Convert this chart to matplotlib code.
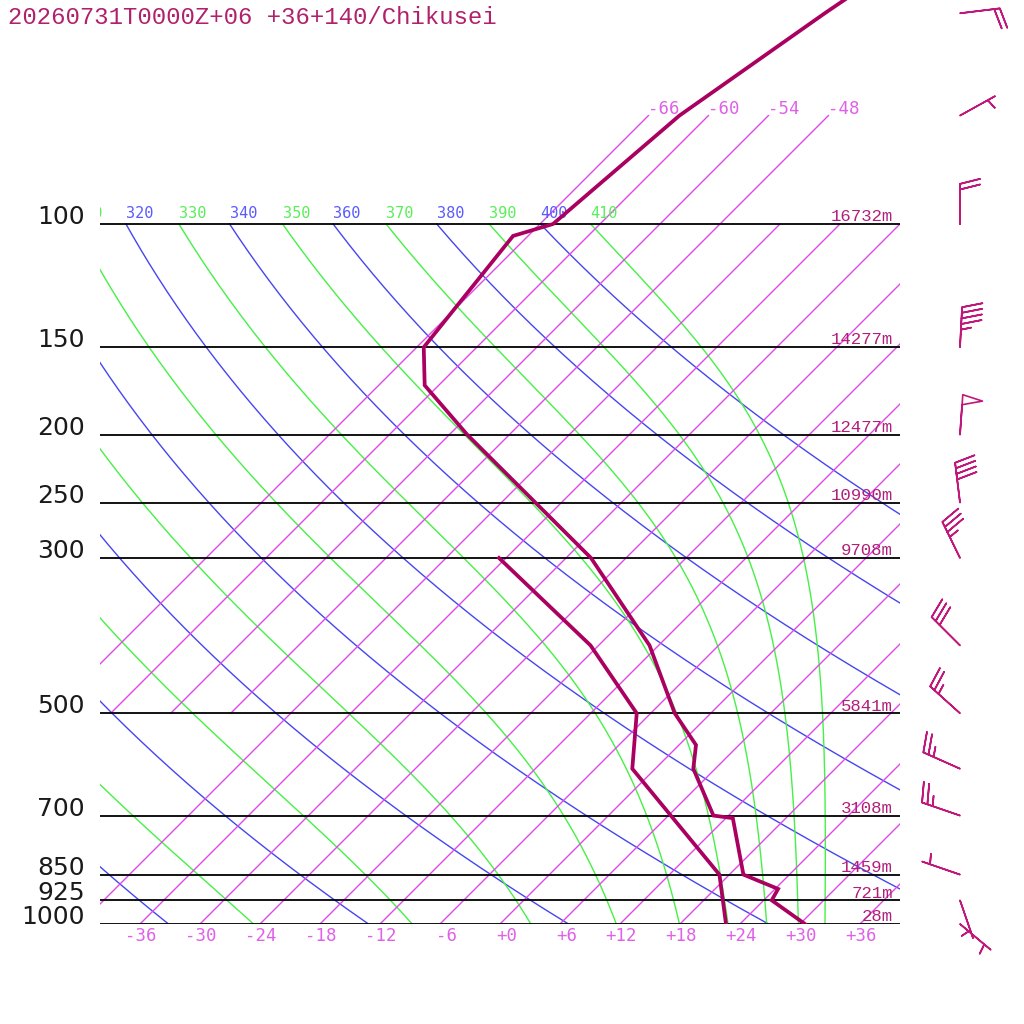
import numpy as np
import matplotlib
matplotlib.use("Agg")
import matplotlib.pyplot as plt
from matplotlib.transforms import offset_copy

# sounding, Chikusei 2026-07-31 00Z +06
temp_p = [1000, 925, 891, 850, 706, 700, 600, 555, 500, 400, 300, 200, 170, 150, 104, 100, 70, 50, 40]
temp_t = [30.5, 24.8, 24.3, 19.4, 12.7, 10.5, 3.8, 1.7, -3.6, -12.9, -27.5, -52.2, -61.4, -65.3, -67.5, -64.7, -62.9, -58.6, -55.4]
dewp_p = [1000, 850, 600, 500, 400, 300]
dewp_t = [22.6, 17.0, -2.3, -7.4, -18.8, -36.7]

isobars = [1000, 925, 850, 700, 500, 300, 250, 200, 150, 100]
heights = ["28m", "721m", "1459m", "3108m", "5841m", "9708m", "10990m", "12477m", "14277m", "16732m"]

wind_p = [1000, 925, 850, 700, 600, 500, 400, 300, 250, 200, 150, 100, 70, 50]
wind_dir = [130, 161, 289, 289, 294, 312, 315, 334, 353, 4, 3, 0, 61, 83]
wind_spd = [5, 5, 5, 25, 25, 25, 30, 35, 40, 50, 45, 20, 5, 20]

iso_t = list(range(-66, 37, 6))
theta_dry = list(range(200, 401, 20))
theta_moist = list(range(230, 411, 20))

SKEW = 70.0  # degC of shift per decade of pressure
P_TOP = 1000.0 / 10 ** (924 / 700)

C_PROF = "#aa0060"
C_BARB = "#c0187a"
C_ISO = "#e048e8"
C_DRY = "#4646f0"
C_MOIST = "#46f046"


def skew_x(t, p):
    return np.asarray(t, float) + SKEW * np.log10(1000.0 / np.asarray(p, float))


def theta_e(tk, p):
    tc = tk - 273.15
    e = 6.112 * np.exp(17.67 * tc / (tc + 243.5))
    r = 0.622 * e / (p - e) * 1000.0
    thl = tk * (1000.0 / (p - e)) ** 0.2854
    return thl * np.exp((3.376 / tk - 0.00254) * r * (1 + 0.81e-3 * r))


def moist_t(the, p):
    lo = np.full_like(p, 150.0)
    hi = np.full_like(p, 315.0)
    for _ in range(60):
        mid = 0.5 * (lo + hi)
        up = theta_e(mid, p) > the
        hi = np.where(up, mid, hi)
        lo = np.where(up, lo, mid)
    return 0.5 * (lo + hi) - 273.15


fig = plt.figure(figsize=(10.24, 10.24), dpi=100)
ax = fig.add_axes([100 / 1024, 100 / 1024, 800 / 1024, 924 / 1024])
ax.set_yscale("log")
ax.set_xlim(-40, 40)
ax.set_ylim(1000, P_TOP)
ax.axis("off")

lab_off = offset_copy(ax.transData, fig=fig, x=0, y=4, units="points")
pg = np.geomspace(1000, 100, 300)

# dry adiabats
for th in theta_dry:
    t = th * (pg / 1000.0) ** 0.2857 - 273.15
    ax.plot(skew_x(t, pg), pg, color=C_DRY, lw=1.0, zorder=2)
    x100 = skew_x(t[-1], 100)
    if x100 > -45:
        ax.text(x100, 100, str(th), transform=lab_off, ha="left", va="baseline",
                family="DejaVu Sans Mono", fontsize=11, color="#5a5aff", clip_on=True)

# moist adiabats
for th in theta_moist:
    t = moist_t(th, pg)
    ax.plot(skew_x(t, pg), pg, color=C_MOIST, lw=1.0, zorder=2)
    x100 = skew_x(t[-1], 100)
    if x100 > -45:
        ax.text(x100, 100, str(th), transform=lab_off, ha="left", va="baseline",
                family="DejaVu Sans Mono", fontsize=11, color="#5aee5a", clip_on=True)

# isotherms
tick_tr = ax.get_xaxis_transform()
top_off = offset_copy(ax.transData, fig=fig, x=0, y=1, units="points")
for t in iso_t:
    if t < -45:
        pp = np.array([500.0, 70.0])
    else:
        pp = np.array([1000.0, 100.0])
    ax.plot(skew_x(t, pp), pp, color=C_ISO, lw=1.0, zorder=2)
    if t < -45:
        ax.text(skew_x(t, 70), 70, f"{t:+d}", transform=top_off, ha="left", va="baseline",
                family="DejaVu Sans Mono", fontsize=12.5, color="#e060e8")
    elif t >= -36:
        ax.text(t + 1.7, -0.013, f"{t:+d}", transform=tick_tr, ha="right", va="center",
                family="DejaVu Sans Mono", fontsize=12.5, color="#e060e8", clip_on=False)

# isobars
h_off = offset_copy(ax.transData, fig=fig, x=0, y=2, units="points")
for p, h in zip(isobars, heights):
    ax.plot([-40, 40], [p, p], color="black", lw=1.3, zorder=3)
    ax.text(-41.5, p, str(p), ha="right", va="baseline", family="DejaVu Sans",
            fontsize=18, color="#1a1a1a", clip_on=False)
    ax.text(39.3, p, h, transform=h_off, ha="right", va="baseline", family="Liberation Mono",
            fontsize=12.5, color="#b0207a")

# profiles
ax.plot(skew_x(temp_t, temp_p), temp_p, color=C_PROF, lw=2.7, zorder=5, solid_joinstyle="miter")
ax.plot(skew_x(dewp_t, dewp_p), dewp_p, color=C_PROF, lw=2.7, zorder=5, solid_joinstyle="miter")

# wind barbs
wd = np.radians(wind_dir)
u = -np.array(wind_spd) * np.sin(wd)
v = -np.array(wind_spd) * np.cos(wd)
ax.barbs(np.full(len(wind_p), 46.0), wind_p, u, v, length=7.6, barbcolor=C_BARB, flagcolor="none",
         linewidth=1.2, sizes=dict(spacing=0.14, height=0.5, width=0.25), clip_on=False, zorder=6)

fig.text(8 / 1024, 1 - 18 / 1024, "20260731T0000Z+06 +36+140/Chikusei", ha="left", va="center",
         family="Liberation Mono", fontsize=17.2, color="#b0206c")

fig.savefig("out.png", dpi=100)
